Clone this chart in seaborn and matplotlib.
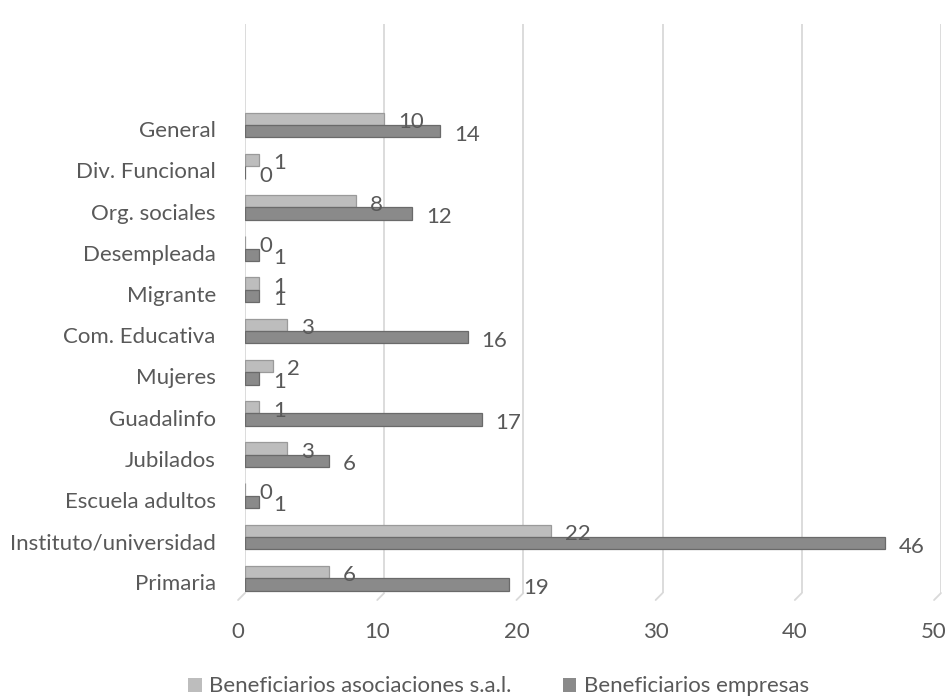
import numpy as np
import pandas as pd
import matplotlib
matplotlib.use("Agg")
import matplotlib.pyplot as plt
import matplotlib.transforms as mtransforms
from matplotlib.patches import Patch
import seaborn as sns

categories = ["General", "Div. Funcional", "Org. sociales", "Desempleada", "Migrante",
              "Com. Educativa", "Mujeres", "Guadalinfo", "Jubilados", "Escuela adultos",
              "Instituto/universidad", "Primaria"]
asociaciones = [10, 1, 8, 0, 1, 3, 2, 1, 3, 0, 22, 6]
empresas = [14, 0, 12, 1, 1, 16, 1, 17, 6, 1, 46, 19]
series_names = ["Beneficiarios asociaciones s.a.l.", "Beneficiarios empresas"]
x_ticks = [0, 10, 20, 30, 40, 50]

colors = ["#bdbdbd", "#8a8a8a"]
edge_colors = ["#9a9a9a", "#6a6a6a"]
text_color = "#595959"
fs = 16

df = pd.DataFrame({
    "cat": categories * 2,
    "val": asociaciones + empresas,
    "serie": [series_names[0]] * len(categories) + [series_names[1]] * len(categories),
})

sns.set_theme(style="white")
plt.rcParams["font.family"] = ["Lato", "DejaVu Sans"]

fig = plt.figure(figsize=(9.48, 6.99), dpi=100)
ax = fig.add_axes([245 / 948, 0.1516, 696 / 948, 0.814])

sns.barplot(data=df, y="cat", x="val", hue="serie", order=categories,
            hue_order=series_names, palette=colors, width=0.6, orient="h",
            ax=ax, legend=False, saturation=1)

for cont, ec in zip(ax.containers, edge_colors):
    for p in cont:
        p.set_edgecolor(ec)
        p.set_linewidth(0.9)

n = len(categories)
ax.set_xlim(0, 50)
ax.set_ylim(n - 1 + 0.36, -2.45)
ax.set_xticks(x_ticks)
ax.set_yticks(np.arange(n) + 0.1, labels=categories)
ax.set_xlabel("")
ax.set_ylabel("")
for s in ax.spines.values():
    s.set_visible(False)
ax.grid(axis="x", color="#d9d9d9", linewidth=1.3)
ax.grid(axis="y", visible=False)
ax.set_axisbelow(True)
ax.tick_params(axis="y", length=0, pad=21, labelsize=fs, labelcolor=text_color)
ax.tick_params(axis="x", length=0, pad=21, labelsize=fs, labelcolor=text_color)

# shift x tick labels slightly left (3D look)
offset = mtransforms.ScaledTranslation(-7 / 100, 0, fig.dpi_scale_trans)
for lab in ax.get_xticklabels():
    lab.set_transform(lab.get_transform() + offset)

# small diagonal "floor" strokes at gridline bottoms
ybot = ax.get_ylim()[0]
for v in x_ticks:
    ax.plot([v, v - 0.5], [ybot, ybot + 0.17], color="#d9d9d9", lw=1.3, clip_on=False)

# value labels
for cont in ax.containers:
    for p in cont:
        w = p.get_width()
        yc = p.get_y() + p.get_height() / 2
        ax.annotate(f"{int(round(w))}", xy=(w, yc), xytext=(10, -2.5),
                    textcoords="offset points", ha="left", va="center",
                    fontsize=fs, color=text_color)

# legend
handles = [Patch(facecolor=c, edgecolor="none") for c in colors]
fig.legend(handles, series_names, loc="center", bbox_to_anchor=(0.526, 0.018),
           ncol=2, frameon=False, fontsize=fs, labelcolor=text_color,
           handlelength=0.6, handleheight=0.6, handletextpad=0.35, columnspacing=2.3)

fig.savefig("out.png", dpi=100)
